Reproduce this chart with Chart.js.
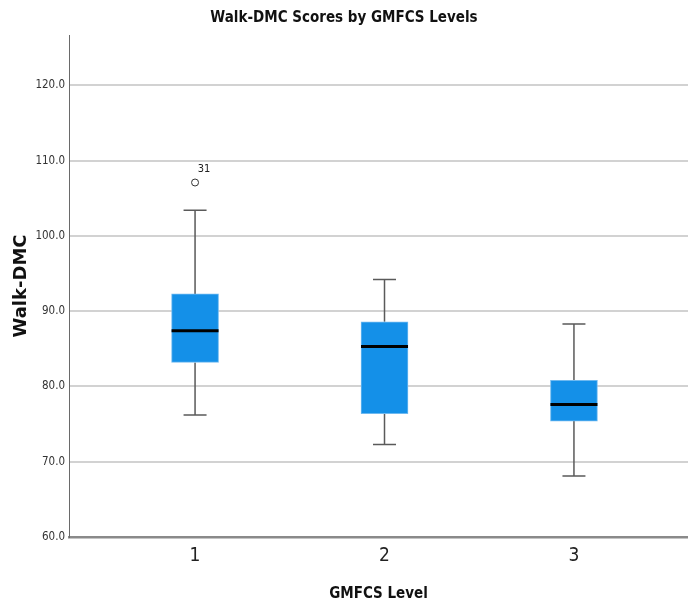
<!DOCTYPE html>
<html>
<head>
<meta charset="utf-8">
<script src="https://cdn.jsdelivr.net/npm/chart.js@4/dist/chart.umd.min.js"></script>
<style>
html,body{margin:0;padding:0;background:#fff;}
#c{display:block;}
</style>
</head>
<body>
<canvas id="c" width="688" height="605"></canvas>
<script>
// ---- data ----
const categories = [1, 2, 3];
const q1 = [83.2, 76.4, 75.4];
const q3 = [92.3, 88.6, 80.8];
const medians = [87.4, 85.3, 77.6];
const whiskerLow = [76.2, 72.3, 68.1];
const whiskerHigh = [103.4, 94.2, 88.3];
const outlierX = [1];
const outlierY = [107.1];
const outlierLabels = ['31'];
const yTicks = [60, 70, 80, 90, 100, 110, 120];

const narrow = "'Liberation Sans Narrow', 'DejaVu Sans Condensed', 'Arial Narrow', sans-serif";

const boxPlugin = {
  id: 'boxparts',
  beforeDatasetsDraw(chart) {
    const {ctx, scales: {x, y}} = chart;
    ctx.save();
    ctx.strokeStyle = '#5a5a5a';
    ctx.lineWidth = 1.5;
    const cap = 11.5;
    categories.forEach((c, i) => {
      const px = x.getPixelForValue(c);
      const yl = y.getPixelForValue(whiskerLow[i]);
      const yh = y.getPixelForValue(whiskerHigh[i]);
      const y1 = y.getPixelForValue(q1[i]);
      const y3 = y.getPixelForValue(q3[i]);
      ctx.beginPath();
      ctx.moveTo(px, y3); ctx.lineTo(px, yh);
      ctx.moveTo(px, y1); ctx.lineTo(px, yl);
      ctx.moveTo(px - cap, yh); ctx.lineTo(px + cap, yh);
      ctx.moveTo(px - cap, yl); ctx.lineTo(px + cap, yl);
      ctx.stroke();
    });
    ctx.restore();
  },
  afterDatasetsDraw(chart) {
    const {ctx, scales: {x, y}} = chart;
    ctx.save();
    ctx.strokeStyle = '#000';
    ctx.lineWidth = 3;
    const half = 23.5;
    categories.forEach((c, i) => {
      const px = x.getPixelForValue(c);
      const pm = y.getPixelForValue(medians[i]);
      ctx.beginPath();
      ctx.moveTo(px - half, pm); ctx.lineTo(px + half, pm);
      ctx.stroke();
    });
    ctx.fillStyle = '#222';
    ctx.font = '11px ' + narrow;
    ctx.textAlign = 'center';
    ctx.textBaseline = 'middle';
    outlierX.forEach((ox, i) => {
      const px = x.getPixelForValue(ox);
      const py = y.getPixelForValue(outlierY[i]);
      ctx.fillText(outlierLabels[i], px + 9, py - 13);
    });
    ctx.restore();
  }
};

new Chart(document.getElementById('c'), {
  type: 'bar',
  data: {
    datasets: [
      {
        type: 'bar',
        data: categories.map((c, i) => ({x: c, y: [q1[i], q3[i]]})),
        backgroundColor: 'rgb(20,144,232)',
        borderColor: 'rgb(110,185,240)',
        borderWidth: 1,
        borderSkipped: false,
        barThickness: 47,
        order: 2
      },
      {
        type: 'scatter',
        data: outlierX.map((ox, i) => ({x: ox, y: outlierY[i]})),
        pointStyle: 'circle',
        pointRadius: 3.5,
        pointBackgroundColor: '#fff',
        pointBorderColor: '#333',
        pointBorderWidth: 1,
        order: 1
      }
    ]
  },
  options: {
    responsive: false,
    animation: false,
    devicePixelRatio: 1,
    layout: {autoPadding: false, padding: {left: 0, right: 0, top: 0, bottom: 0}},
    plugins: {
      legend: {display: false},
      tooltip: {enabled: false},
      title: {
        display: true,
        text: 'Walk-DMC Scores by GMFCS Levels',
        color: '#111',
        font: {family: narrow, size: 15, weight: 'bold'},
        padding: {top: 9, bottom: 8}
      }
    },
    scales: {
      x: {
        type: 'linear',
        min: 0.3346,
        max: 3.602,
        offset: false,
        afterBuildTicks(scale) { scale.ticks = categories.map(v => ({value: v})); },
        afterFit(scale) { scale.height = 68; },
        grid: {display: false, drawTicks: false},
        border: {display: true, color: '#8a8a8a', width: 2.5},
        ticks: {
          color: '#222',
          font: {family: narrow, size: 19},
          padding: 8,
          callback: v => String(v)
        },
        title: {
          display: true,
          text: 'GMFCS Level',
          color: '#111',
          font: {family: narrow, size: 15, weight: 'bold'},
          padding: {top: 0, bottom: 2}
        }
      },
      y: {
        type: 'linear',
        min: 60,
        max: 126.7,
        afterBuildTicks(scale) { scale.ticks = yTicks.map(v => ({value: v})); },
        afterFit(scale) { scale.width = 69; },
        grid: {color: '#d2d2d2', lineWidth: 2, drawTicks: false},
        border: {display: true, color: '#6a6a6a', width: 1},
        ticks: {
          color: '#333',
          font: {family: narrow, size: 11.5},
          padding: 4,
          callback: v => v.toFixed(1)
        },
        title: {
          display: true,
          text: 'Walk-DMC',
          color: '#111',
          font: {family: "'DejaVu Sans', sans-serif", size: 18, weight: 'bold'},
          padding: {top: 11, bottom: 0}
        }
      }
    }
  },
  plugins: [boxPlugin]
});
</script>
</body>
</html>
